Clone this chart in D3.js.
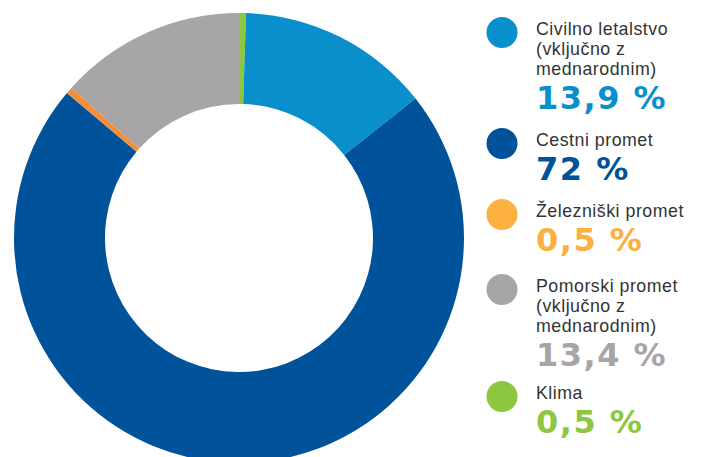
<!DOCTYPE html>
<html><head><meta charset="utf-8">
<script src="https://cdn.jsdelivr.net/npm/d3@7"></script>
<style>html,body{margin:0;padding:0;background:#fff;}svg{display:block;}</style>
</head><body>
<svg id="c" width="708" height="457"></svg>
<script>
const categories = ["Civilno letalstvo (vključno z mednarodnim)", "Cestni promet", "Železniški promet", "Pomorski promet (vključno z mednarodnim)", "Klima"];
const labelLines = [["Civilno letalstvo","(vključno z","mednarodnim)"],["Cestni promet"],["Železniški promet"],["Pomorski promet","(vključno z","mednarodnim)"],["Klima"]];
const values = [13.9, 72, 0.5, 13.4, 0.5];
const valueLabels = ["13,9 %", "72 %", "0,5 %", "13,4 %", "0,5 %"];
const sliceColors = ["#0a8fcd", "#00529b", "#f58f3c", "#a7a5a6", "#8dc63f"];
const legendColors = ["#0a8fcd", "#00529b", "#fbb040", "#a7a5a6", "#8dc63f"];
// drawing order clockwise from top
const pieOrder = [4, 0, 1, 2, 3];

const svg = d3.select("#c");
const cx = 239, cy = 238, R = 225, r = 134;
const pie = d3.pie().sort(null).value(i => values[i]);
const arc = d3.arc().innerRadius(r).outerRadius(R);
svg.append("g").attr("transform", `translate(${cx},${cy})`)
  .selectAll("path").data(pie(pieOrder)).join("path")
  .attr("d", arc).attr("fill", d => sliceColors[d.data]);

const legendX = 502, textX = 536;
const lineH = 20;
const rowTop = [35, 146, 217, 292, 399];
const lg = svg.append("g");
categories.forEach((c, i) => {
  const g = lg.append("g");
  g.append("circle").attr("cx", legendX).attr("cy", rowTop[i] - 2.5).attr("r", 15.5).attr("fill", legendColors[i]);
  const txt = g.append("text").attr("x", textX).attr("y", rowTop[i])
    .attr("font-family", "'Liberation Sans', Arial, sans-serif").attr("font-size", 17.8)
    .attr("letter-spacing", 0.5).attr("fill", "#333");
  labelLines[i].forEach((t, j) => {
    txt.append("tspan").attr("x", textX).attr("dy", j === 0 ? 0 : lineH).text(t);
  });
  const lastY = rowTop[i] + (labelLines[i].length - 1) * lineH;
  g.append("text").attr("x", textX).attr("y", lastY + 34)
    .attr("font-family", "'DejaVu Sans', sans-serif").attr("font-weight", "bold")
    .attr("font-size", 32).attr("letter-spacing", 1.5)
    .attr("fill", legendColors[i]).text(valueLabels[i]);
});
</script>
</body></html>
